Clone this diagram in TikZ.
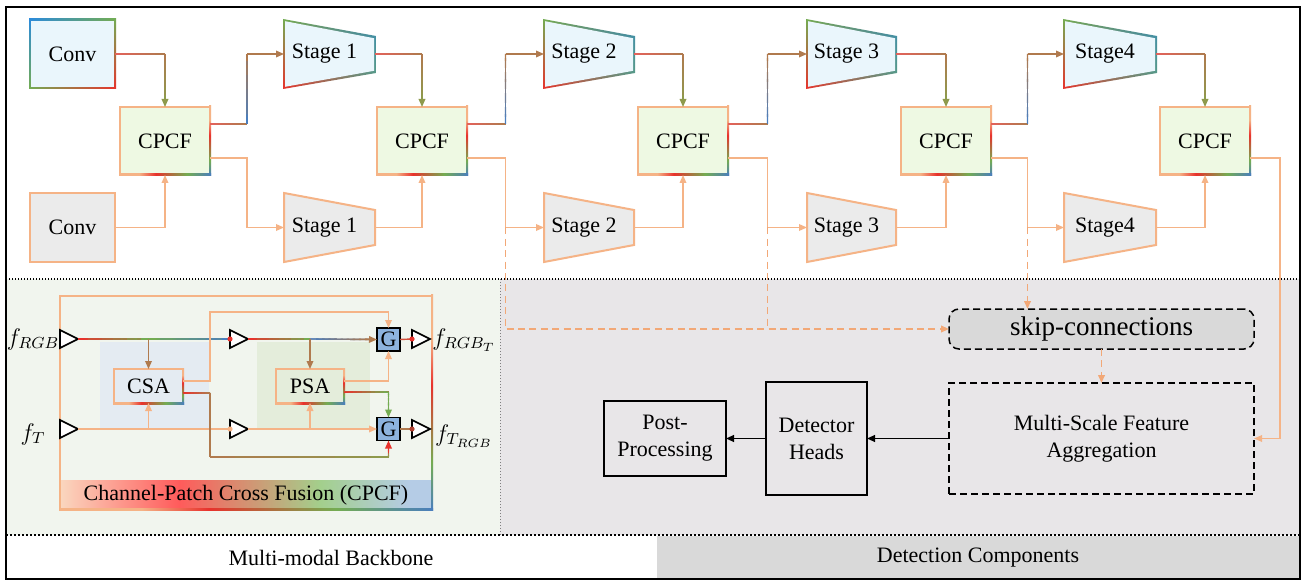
\documentclass[tikz,border=0pt]{standalone}
\usepackage{fontspec}
\setmainfont{Liberation Serif}
\usetikzlibrary{arrows.meta,calc,shadings}
\definecolor{peach}{HTML}{F5B386}
\definecolor{redC}{HTML}{E8322C}
\definecolor{redL}{HTML}{E2625A}
\definecolor{greenC}{HTML}{74AC52}
\definecolor{blueC}{HTML}{4A7EBE}
\definecolor{convBlue}{HTML}{2C8BDB}
\definecolor{tealC}{HTML}{3A8BB0}
\definecolor{greenT}{HTML}{5E9E7E}
\definecolor{brownC}{HTML}{B07A4E}
\definecolor{oliveC}{HTML}{8E9A4C}
\definecolor{lblue}{HTML}{EAF6FC}
\definecolor{cpfill}{HTML}{EEF9E3}
\definecolor{grayF}{HTML}{EBEBEB}
\definecolor{panelL}{HTML}{F1F5EE}
\definecolor{panelR}{HTML}{E8E6E8}
\definecolor{bandR}{HTML}{D9D9D9}
\definecolor{skipF}{HTML}{D9D9D9}
\definecolor{regB}{HTML}{E4EBF2}
\definecolor{regG}{HTML}{E4EDDB}
\definecolor{Gfill}{HTML}{8DB3DE}
\definecolor{capP}{HTML}{FAD7BF}
\definecolor{capR}{HTML}{FF5B5B}
\definecolor{capG}{HTML}{A3CF8C}
\definecolor{capB}{HTML}{B5CCE6}
\definecolor{darkR}{HTML}{B04030}
\definecolor{peachD}{HTML}{F2A877}
\pgfdeclarehorizontalshading{cpcfh}{100bp}{color(0bp)=(peach); color(36bp)=(peach); color(45bp)=(redC); color(62bp)=(greenC); color(75bp)=(blueC); color(100bp)=(blueC)}
\pgfdeclareverticalshading{cpcfv}{100bp}{color(0bp)=(blueC); color(25bp)=(blueC); color(36bp)=(greenC); color(54bp)=(redC); color(65bp)=(peach); color(100bp)=(peach)}
\pgfdeclarehorizontalshading{caph}{100bp}{color(0bp)=(capP); color(25bp)=(capP); color(41bp)=(capR); color(60bp)=(capG); color(72bp)=(capB); color(100bp)=(capB)}
\newcommand{\lbl}{\fontsize{11}{13.5}\selectfont}
\newcommand{\flbl}{\fontsize{12}{14}\selectfont}
% gradient line: solid underlay in the mid colour, then graded pieces
\newcommand{\gline}[4]{%
  \draw[conn, color=#3!50!#4] (#1) -- (#2);
  \foreach \i in {0,...,9}{%
    \pgfmathsetmacro\ga{\i/10}%
    \pgfmathsetmacro\gb{min((\i+1)/10+0.04,1)}%
    \pgfmathtruncatemacro\gp{100-\i*100/9}%
    \draw[conn, color=#3!\gp!#4] ($(#1)!\ga!(#2)$) -- ($(#1)!\gb!(#2)$);
  }}
\newcommand{\garr}[4]{%
  \coordinate (garrtmp) at ($(#2)!3pt!(#1)$);
  \gline{#1}{garrtmp}{#3}{#4}
  \draw[conn, arr, color=#4] ($(#2)!6pt!(#1)$) -- (#2);}
% gradient bordered rectangle (light blue)
\newcommand{\gradrect}[7]{%
  \shade[#7] (#2-1,#3-1) rectangle (#4+1,#5+1);
  \fill[lblue] (#2+1,#3+1) rectangle (#4-1,#5-1);
  \node[txt, minimum width={(#4-#2)*0.5pt}, minimum height={(#5-#3)*0.5pt}] (#1) at ({(#2+#4)/2},{(#3+#5)/2}) {#6};}
\newcommand{\peachrect}[6]{%
  \node[txt, draw=peach, line width=1pt, fill=grayF, minimum width={(#4-#2)*0.5pt}, minimum height={(#5-#3)*0.5pt}] (#1) at ({(#2+#4)/2},{(#3+#5)/2}) {#6};}
\newcommand{\cpbox}[7]{%
  \node[txt, draw=peach, line width=1pt, fill=#7, minimum width={(#4-#2)*0.5pt}, minimum height={(#5-#3)*0.5pt}] (#1) at ({(#2+#4)/2},{(#3+#5)/2}) {#6};
  \shade[shading=cpcfv] (#4-1,#3-1) rectangle (#4+1,#5+1);
  \shade[shading=cpcfh] (#2-1,#5-1) rectangle (#4+1,#5+1);}
% trapezoids: name, x1, x2, yTL, yBL, yTR, yBR, text
\newcommand{\gtrap}[8]{%
  \shade[upper left=greenC, upper right=tealC, lower left=redC, lower right=greenT] (#2-1,#4-1) -- (#3+1,#6-1) -- (#3+1,#7+1) -- (#2-1,#5+1) -- cycle;
  \fill[lblue] (#2+1,#4+1.2) -- (#3-1,#6+1.2) -- (#3-1,#7-1.2) -- (#2+1,#5-1.2) -- cycle;
  \node[txt, minimum width={(#3-#2)*0.5pt}, minimum height={(#5-#4)*0.5pt}] (#1) at ({(#2+#3)/2},{(#4+#5)/2}) {#8\kern5pt};}
\newcommand{\ptrap}[8]{%
  \draw[peach, line width=1pt, fill=grayF] (#2,#4) -- (#3,#6) -- (#3,#7) -- (#2,#5) -- cycle;
  \node[txt, minimum width={(#3-#2)*0.5pt}, minimum height={(#5-#4)*0.5pt}] (#1) at ({(#2+#3)/2},{(#4+#5)/2}) {#8\kern5pt};}
\newcommand{\mytri}[3]{%
  \draw[line width=0.8pt, fill=white] (#2,#3-9) -- (#2+18,#3) -- (#2,#3+9) -- cycle;
  \coordinate (#1b) at (#2,#3);
  \coordinate (#1t) at (#2+18,#3);}
\begin{document}
\begin{tikzpicture}[x=0.5pt,y=-0.5pt,
  txt/.style={inner sep=0pt, outer sep=0pt, font=\lbl},
  conn/.style={line width=0.7pt},
  arr/.style={-{Triangle[length=4pt,width=3.3pt]}},
  pdash/.style={line width=0.95pt, dash pattern=on 3.5pt off 2.2pt},
  boxdash/.style={line width=0.75pt, dash pattern=on 3.5pt off 2pt},
  gbox/.style={draw=black, line width=0.7pt, fill=Gfill, minimum size=11.5pt, inner sep=0pt, outer sep=0pt, font=\lbl}]
\useasboundingbox (0,0) rectangle (1306,588);
\fill[white] (0,0) rectangle (1306,588);
% panels
\fill[panelL] (6,279) rectangle (500,535);
\fill[panelR] (500,279) rectangle (1300,535);
\fill[bandR] (657,536) rectangle (1300,579);
\node[font=\lbl] (bb) at (331,558) {Multi-modal Backbone};
\node[font=\lbl] (dc) at (978,558) {Detection Components};
\draw[line width=0.6pt, dash pattern=on 0.6pt off 0.9pt] (6,279) -- (1300,279);
\draw[line width=1pt, dash pattern=on 1pt off 1pt] (6,535) -- (1300,535);
\draw[gray, line width=0.4pt, dash pattern=on 0.5pt off 1pt] (500,279) -- (500,535);
\draw[line width=1.1pt] (6,7) rectangle (1300,579);

% ---------- top: backbone ----------
\gradrect{st0}{30}{20}{115}{88}{Conv}{upper left=convBlue, upper right=greenC, lower left=greenC, lower right=redC}
\peachrect{sb0}{30}{193}{115}{262}{Conv}
\cpbox{cp1}{120}{107}{210}{175}{CPCF}{cpfill}
\cpbox{cp2}{377}{107}{467}{175}{CPCF}{cpfill}
\cpbox{cp3}{638}{107}{728}{175}{CPCF}{cpfill}
\cpbox{cp4}{901}{107}{991}{175}{CPCF}{cpfill}
\cpbox{cp5}{1160}{107}{1250}{175}{CPCF}{cpfill}
\gtrap{st1}{284}{375}{20}{88}{37}{72}{Stage 1}
\gtrap{st2}{544}{634}{20}{88}{37}{72}{Stage 2}
\gtrap{st3}{807}{896}{20}{88}{37}{72}{Stage 3}
\gtrap{st4}{1064}{1156}{20}{88}{37}{72}{Stage4}
\ptrap{sb1}{284}{375}{193}{262}{210}{245}{Stage 1}
\ptrap{sb2}{544}{634}{193}{262}{210}{245}{Stage 2}
\ptrap{sb3}{807}{896}{193}{262}{210}{245}{Stage 3}
\ptrap{sb4}{1064}{1156}{193}{262}{210}{245}{Stage4}

\foreach \k in {1,2,3,4,5}{
  \coordinate (cpu\k) at ($(cp\k.north east)!0.25!(cp\k.south east)$);
  \coordinate (cpl\k) at ($(cp\k.north east)!0.75!(cp\k.south east)$);
}
\foreach \k [evaluate=\k as \n using int(\k+1)] in {0,...,4}{
  \coordinate (da\k) at (st\k.east -| cp\n.north);
  \gline{st\k.east}{da\k}{redL}{brownC}
  \garr{da\k}{cp\n.north}{brownC}{oliveC}
  \draw[conn, peach, arr] (sb\k.east) -| (cp\n.south);
}
\foreach \k in {1,...,4}{
  \coordinate (mx\k) at ($(cp\k.east)!0.5!(st\k.west)$);
  \coordinate (ua\k) at (cpu\k -| mx\k);
  \coordinate (ub\k) at (st\k.west -| mx\k);
  \coordinate (la\k) at (cpl\k -| mx\k);
  \coordinate (lb\k) at (sb\k.west -| mx\k);
  \gline{cpu\k}{ua\k}{redL}{brownC}
  \gline{ua\k}{ub\k}{blueC}{brownC}
  \garr{ub\k}{st\k.west}{brownC}{brownC}
  \draw[conn, peach, arr] (cpl\k) -- (la\k) -- (lb\k) -- (sb\k.west);
}

% ---------- detection components ----------
\node[txt, draw, boxdash, rounded corners=5pt, fill=skipF, minimum width=152.5pt, minimum height=20pt, font=\fontsize{13.5}{16}\selectfont] (skip) at (1101.5,329) {skip-connections};
\node[txt, draw, boxdash, minimum width=152.5pt, minimum height=55.5pt, align=center] (msfa) at (1101.5,438.5) {Multi-Scale Feature\\Aggregation};
\node[txt, draw, line width=0.75pt, minimum width=50.5pt, minimum height=56.5pt, align=center] (det) at (816.5,438.5) {Detector\\Heads};
\node[txt, draw, line width=0.75pt, minimum width=61pt, minimum height=37.5pt, align=center] (post) at (665,438.5) {Post-\\Processing};
\draw[line width=0.75pt, -{Triangle[length=4pt,width=3.4pt]}] (msfa.west) -- (det.east);
\draw[line width=0.75pt, -{Triangle[length=4pt,width=3.4pt]}] (det.west) -- (post.east);
\draw[peachD, pdash, arr] (lb2) -- (lb2 |- skip.west) -- (skip.west);
\draw[peachD, pdash] (lb3) -- (lb3 |- skip.west);
\draw[peachD, pdash, arr] (lb4) -- (lb4 |- skip.north);
\draw[peachD, pdash, arr] (skip.south) -- (msfa.north);
\coordinate (rx) at ($(cpl5)+(30,0)$);
\draw[conn, peach, arr] (cpl5) -- (rx) |- (msfa.east);

% ---------- CPCF detail ----------
\fill[regB] (100,342) rectangle (209,428);
\fill[regG] (257,342) rectangle (370,428);
\shade[shading=caph] (60,480) rectangle (432,509);
\node[font=\lbl] (capt) at (246,495) {Channel-Patch Cross Fusion (CPCF)};
\draw[peach, line width=1pt] (60,296) rectangle (432,509);
\shade[shading=cpcfv] (431,295) rectangle (433,510);
\shade[shading=cpcfh] (59,508) rectangle (433,510);

\cpbox{csa}{114}{369}{183}{403}{CSA}{none}
\cpbox{psa}{276}{369}{344}{403}{PSA}{none}
\node[gbox] (g1) at (388.5,339.5) {G};
\node[gbox] (g2) at (388.5,429) {G};
\mytri{inR}{60}{339}
\mytri{inT}{60}{429}
\mytri{midR}{230}{339}
\mytri{midT}{230}{429}
\mytri{outR}{412}{339}
\mytri{outT}{412}{429}

\coordinate (brR) at (inRt -| csa.north);
\coordinate (brT) at (inTt -| csa.south);
\coordinate (brR2) at (midRt -| psa.north);
\coordinate (brT2) at (midTt -| psa.south);
% RGB row
\gline{inRt}{brR}{redC}{greenC}
\gline{brR}{midRb}{greenC}{blueC}
\gline{midRt}{brR2}{redC}{greenC}
\garr{brR2}{g1.west}{blueC}{brownC}
\draw[conn, brownC, arr] (brR) -- (csa.north);
\draw[conn, brownC, arr] (brR2) -- (psa.north);
\draw[conn, redC!60!brownC] (g1.east) -- (outRb);
% T row
\draw[conn, peach] (inTt) -- (midTb);
\draw[conn, peach, arr] (midTt) -- (g2.west);
\draw[conn, peach, arr] (brT) -- (csa.south);
\draw[conn, peach, arr] (brT2) -- (psa.south);
\draw[conn, brownC] (g2.east) -- (outTb);
% CSA outputs
\coordinate (csau) at ($(csa.north east)!0.35!(csa.south east)$);
\coordinate (csal) at ($(csa.north east)!0.7!(csa.south east)$);
\coordinate (kx) at (210,312);
\coordinate (ky) at (210,457);
\draw[conn, peach, arr] (csau) -| (kx) -| (g1.north);
\coordinate (k2a) at (csal -| ky);
\coordinate (k2b) at (ky -| g2.south);
\gline{csal}{k2a}{redC}{brownC}
\gline{k2a}{ky}{brownC}{brownC}
\gline{ky}{k2b}{brownC}{oliveC}
\garr{k2b}{g2.south}{oliveC}{redC}
% PSA outputs
\coordinate (psau) at ($(psa.north east)!0.35!(psa.south east)$);
\coordinate (psal) at ($(psa.north east)!0.68!(psa.south east)$);
\draw[conn, peach, arr] (psau) -| (g1.south);
\coordinate (p2a) at (psal -| g2.north);
\gline{psal}{p2a}{redC}{greenC}
\garr{p2a}{g2.north}{greenC}{greenC}
% dots
\fill[redC] (midRb) circle (1.3pt);
\fill[redC] (outRb) circle (1.3pt);
\fill[peach] (midTb) circle (1.3pt);
\fill[darkR] (outTb) circle (1.3pt);
% labels
\node[font=\flbl] (lfr) at (33,339) {$f_{RGB}$};
\node[font=\flbl] (lft) at (33,434) {$f_{T}$};
\node[font=\flbl] (lor) at (464,340) {$f_{RGB_T}$};
\node[font=\flbl] (lot) at (464,436) {$f_{T_{RGB}}$};
\end{tikzpicture}
\end{document}
